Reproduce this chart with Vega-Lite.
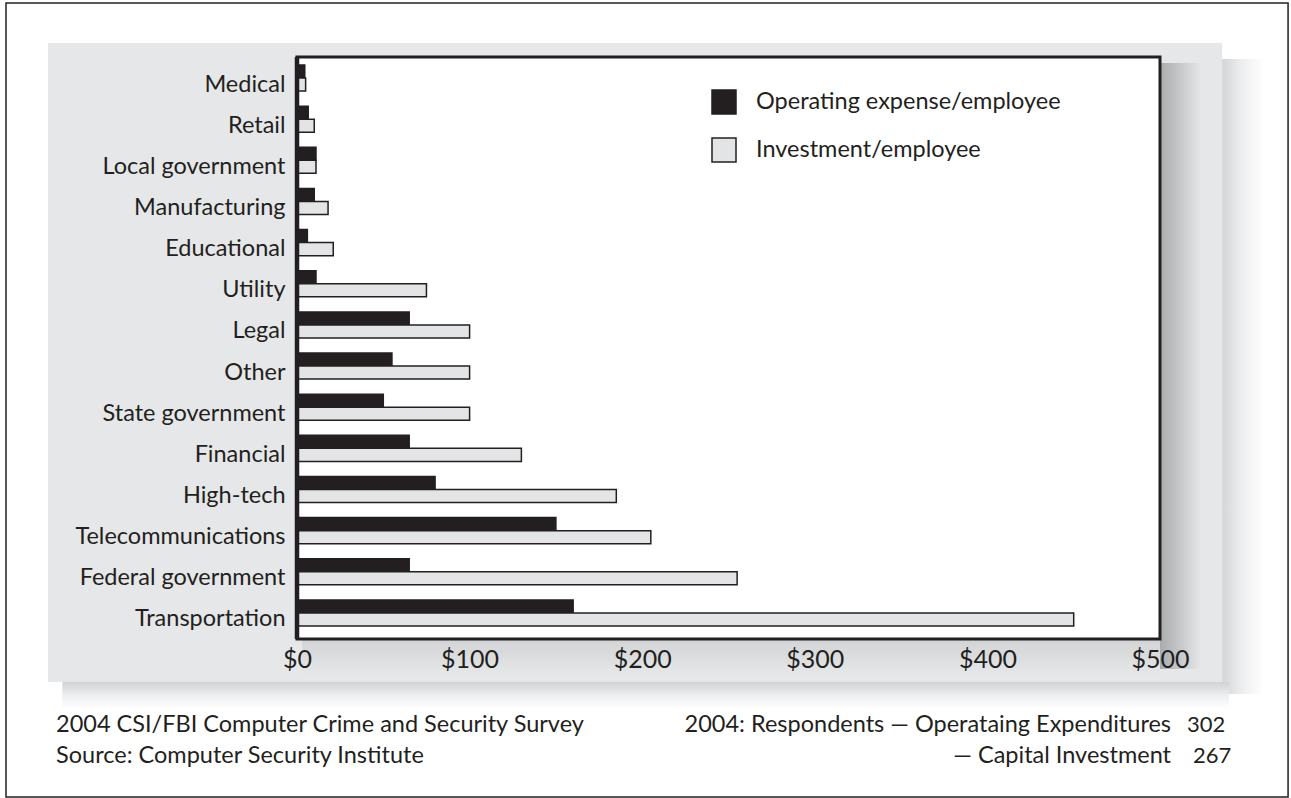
{
  "$schema": "https://vega.github.io/schema/vega-lite/v6.json",
  "width": 863,
  "height": 582,
  "autosize": {"type": "none"},
  "padding": {"left": 297, "top": 57, "right": 131, "bottom": 159},
  "background": "white",
  "data": {"values": [{}]},
  "config": {
    "font": "Lato",
    "view": {"stroke": null, "fill": null},
    "text": {"font": "Lato", "color": "#231f20"}
  },
  "resolve": {"scale": {"y": "independent"}},
  "layer": [
    {
      "mark": {"type": "rect", "fill": {"gradient": "linear", "x1": 0, "y1": 0, "x2": 1, "y2": 0, "stops": [{"offset": 0, "color": "#d4d5d7"}, {"offset": 0.5, "color": "#eeeff0"}, {"offset": 1, "color": "#ffffff"}]}},
      "encoding": {
        "x": {"datum": 536, "type": "quantitative", "scale": {"domain": [0, 500]}},
        "x2": {"datum": 560},
        "y": {"datum": 580, "type": "quantitative", "scale": {"domain": [0, 582]}, "axis": null},
        "y2": {"datum": -55}
      }
    },
    {
      "mark": {"type": "rect", "fill": {"gradient": "linear", "x1": 0, "y1": 0, "x2": 0, "y2": 1, "stops": [{"offset": 0, "color": "#d0d2d4"}, {"offset": 0.5, "color": "#eeeff0"}, {"offset": 1, "color": "#ffffff"}]}},
      "encoding": {
        "x": {"datum": -136, "type": "quantitative", "scale": {"domain": [0, 500]}},
        "x2": {"datum": 540},
        "y": {"datum": -43, "type": "quantitative", "scale": {"domain": [0, 582]}, "axis": null},
        "y2": {"datum": -70}
      }
    },
    {
      "mark": {"type": "rect", "fill": "#e6e7e8"},
      "encoding": {
        "x": {"datum": -144.3, "type": "quantitative", "scale": {"domain": [0, 500]}},
        "x2": {"datum": 536},
        "y": {"datum": 596, "type": "quantitative", "scale": {"domain": [0, 582]}, "axis": null},
        "y2": {"datum": -43}
      }
    },
    {
      "mark": {"type": "rect", "fill": {"gradient": "linear", "x1": 0, "y1": 0, "x2": 0, "y2": 1, "stops": [{"offset": 0, "color": "#d2d3d5"}, {"offset": 1, "color": "#e6e7e8"}]}},
      "encoding": {
        "x": {"datum": 3, "type": "quantitative", "scale": {"domain": [0, 500]}},
        "x2": {"datum": 500},
        "y": {"datum": 0, "type": "quantitative", "scale": {"domain": [0, 582]}, "axis": null},
        "y2": {"datum": -36}
      }
    },
    {
      "mark": {"type": "rect", "fill": {"gradient": "linear", "x1": 0, "y1": 0, "x2": 1, "y2": 0, "stops": [{"offset": 0, "color": "#a9abad"}, {"offset": 1, "color": "#e6e7e8"}]}},
      "encoding": {
        "x": {"datum": 500, "type": "quantitative", "scale": {"domain": [0, 500]}},
        "x2": {"datum": 524},
        "y": {"datum": 576, "type": "quantitative", "scale": {"domain": [0, 582]}, "axis": null},
        "y2": {"datum": -30}
      }
    },
    {
      "mark": {"type": "rect", "fill": "#ffffff"},
      "encoding": {
        "x": {"datum": 0, "type": "quantitative", "scale": {"domain": [0, 500]}},
        "x2": {"datum": 500},
        "y": {"datum": 582, "type": "quantitative", "scale": {"domain": [0, 582]}, "axis": null},
        "y2": {"datum": 0}
      }
    },
    {
      "data": {
        "values": [
          {"industry": "Medical", "series": "Operating expense/employee", "value": 4.5},
          {"industry": "Medical", "series": "Investment/employee", "value": 5},
          {"industry": "Retail", "series": "Operating expense/employee", "value": 6.5},
          {"industry": "Retail", "series": "Investment/employee", "value": 10},
          {"industry": "Local government", "series": "Operating expense/employee", "value": 11},
          {"industry": "Local government", "series": "Investment/employee", "value": 11},
          {"industry": "Manufacturing", "series": "Operating expense/employee", "value": 10},
          {"industry": "Manufacturing", "series": "Investment/employee", "value": 18},
          {"industry": "Educational", "series": "Operating expense/employee", "value": 6},
          {"industry": "Educational", "series": "Investment/employee", "value": 21},
          {"industry": "Utility", "series": "Operating expense/employee", "value": 11},
          {"industry": "Utility", "series": "Investment/employee", "value": 75},
          {"industry": "Legal", "series": "Operating expense/employee", "value": 65},
          {"industry": "Legal", "series": "Investment/employee", "value": 100},
          {"industry": "Other", "series": "Operating expense/employee", "value": 55},
          {"industry": "Other", "series": "Investment/employee", "value": 100},
          {"industry": "State government", "series": "Operating expense/employee", "value": 50},
          {"industry": "State government", "series": "Investment/employee", "value": 100},
          {"industry": "Financial", "series": "Operating expense/employee", "value": 65},
          {"industry": "Financial", "series": "Investment/employee", "value": 130},
          {"industry": "High-tech", "series": "Operating expense/employee", "value": 80},
          {"industry": "High-tech", "series": "Investment/employee", "value": 185},
          {"industry": "Telecommunications", "series": "Operating expense/employee", "value": 150},
          {"industry": "Telecommunications", "series": "Investment/employee", "value": 205},
          {"industry": "Federal government", "series": "Operating expense/employee", "value": 65},
          {"industry": "Federal government", "series": "Investment/employee", "value": 255},
          {"industry": "Transportation", "series": "Operating expense/employee", "value": 160},
          {"industry": "Transportation", "series": "Investment/employee", "value": 450}
        ]
      },
      "mark": {"type": "bar", "stroke": "#231f20", "strokeWidth": 1.5},
      "encoding": {
        "y": {
          "field": "industry", "type": "nominal", "sort": null,
          "scale": {"range": [8, 582], "paddingInner": 0.05, "paddingOuter": 0},
          "axis": {"title": null, "domain": false, "ticks": false, "labelFont": "Lato", "labelFontSize": 23.5, "labelColor": "#231f20", "labelPadding": 12, "labelLimit": 0, "zindex": 2}
        },
        "yOffset": {"field": "series", "type": "nominal", "scale": {"domain": ["Operating expense/employee", "Investment/employee", "none"]}},
        "x": {
          "field": "value", "type": "quantitative",
          "scale": {"domain": [0, 500], "nice": false},
          "axis": {"title": null, "values": [0, 100, 200, 300, 400, 500], "labelExpr": "'$' + datum.value", "domain": false, "ticks": false, "grid": false, "labelFont": "Lato", "labelFontSize": 25, "labelColor": "#231f20", "labelPadding": 8, "labelFlush": false, "zindex": 2}
        },
        "fill": {
          "field": "series", "type": "nominal",
          "scale": {"domain": ["Operating expense/employee", "Investment/employee"], "range": ["#231f20", "#e3e4e5"]},
          "legend": {"title": null, "orient": "none", "legendX": 414, "legendY": 32, "symbolType": "square", "symbolSize": 576, "symbolStrokeColor": "#231f20", "symbolStrokeWidth": 1.5, "labelFont": "Lato", "labelFontSize": 23.5, "labelColor": "#231f20", "labelOffset": 19, "labelLimit": 0, "rowPadding": 18, "padding": 0, "zindex": 2}
        }
      }
    },
    {
      "mark": {"type": "rect", "fill": null, "stroke": "#231f20", "strokeWidth": 3},
      "encoding": {
        "x": {"datum": 0, "type": "quantitative", "scale": {"domain": [0, 500]}},
        "x2": {"datum": 500},
        "y": {"datum": 582, "type": "quantitative", "scale": {"domain": [0, 582]}, "axis": null},
        "y2": {"datum": 0}
      }
    },
    {
      "mark": {"type": "rule", "stroke": "#231f20", "strokeWidth": 4.5},
      "encoding": {
        "x": {"datum": 0, "type": "quantitative", "scale": {"domain": [0, 500]}},
        "y": {"datum": 582, "type": "quantitative", "scale": {"domain": [0, 582]}, "axis": null},
        "y2": {"datum": 0}
      }
    },
    {
      "mark": {"type": "text", "align": "left", "baseline": "middle", "fontSize": 23.5, "text": "2004 CSI/FBI Computer Crime and Security Survey"},
      "encoding": {
        "x": {"datum": -139.6, "type": "quantitative", "scale": {"domain": [0, 500]}},
        "y": {"datum": -86, "type": "quantitative", "scale": {"domain": [0, 582]}, "axis": null}
      }
    },
    {
      "mark": {"type": "text", "align": "left", "baseline": "middle", "fontSize": 23.5, "text": "Source: Computer Security Institute"},
      "encoding": {
        "x": {"datum": -139.6, "type": "quantitative", "scale": {"domain": [0, 500]}},
        "y": {"datum": -117, "type": "quantitative", "scale": {"domain": [0, 582]}, "axis": null}
      }
    },
    {
      "mark": {"type": "text", "align": "right", "baseline": "middle", "fontSize": 23.5, "text": "2004: Respondents — Operataing Expenditures"},
      "encoding": {
        "x": {"datum": 506.4, "type": "quantitative", "scale": {"domain": [0, 500]}},
        "y": {"datum": -86, "type": "quantitative", "scale": {"domain": [0, 582]}, "axis": null}
      }
    },
    {
      "mark": {"type": "text", "align": "right", "baseline": "middle", "fontSize": 23.5, "text": "— Capital Investment"},
      "encoding": {
        "x": {"datum": 506.4, "type": "quantitative", "scale": {"domain": [0, 500]}},
        "y": {"datum": -117, "type": "quantitative", "scale": {"domain": [0, 582]}, "axis": null}
      }
    },
    {
      "mark": {"type": "text", "align": "left", "baseline": "middle", "fontSize": 22, "text": "302"},
      "encoding": {
        "x": {"datum": 515.6, "type": "quantitative", "scale": {"domain": [0, 500]}},
        "y": {"datum": -86, "type": "quantitative", "scale": {"domain": [0, 582]}, "axis": null}
      }
    },
    {
      "mark": {"type": "text", "align": "left", "baseline": "middle", "fontSize": 22, "text": "267"},
      "encoding": {
        "x": {"datum": 519.1, "type": "quantitative", "scale": {"domain": [0, 500]}},
        "y": {"datum": -117, "type": "quantitative", "scale": {"domain": [0, 582]}, "axis": null}
      }
    },
    {
      "mark": {"type": "rect", "fill": null, "stroke": "#231f20", "strokeWidth": 1.5},
      "encoding": {
        "x": {"datum": -168.6, "type": "quantitative", "scale": {"domain": [0, 500]}},
        "x2": {"datum": 574.2},
        "y": {"datum": 636, "type": "quantitative", "scale": {"domain": [0, 582]}, "axis": null},
        "y2": {"datum": -158}
      }
    }
  ]
}
